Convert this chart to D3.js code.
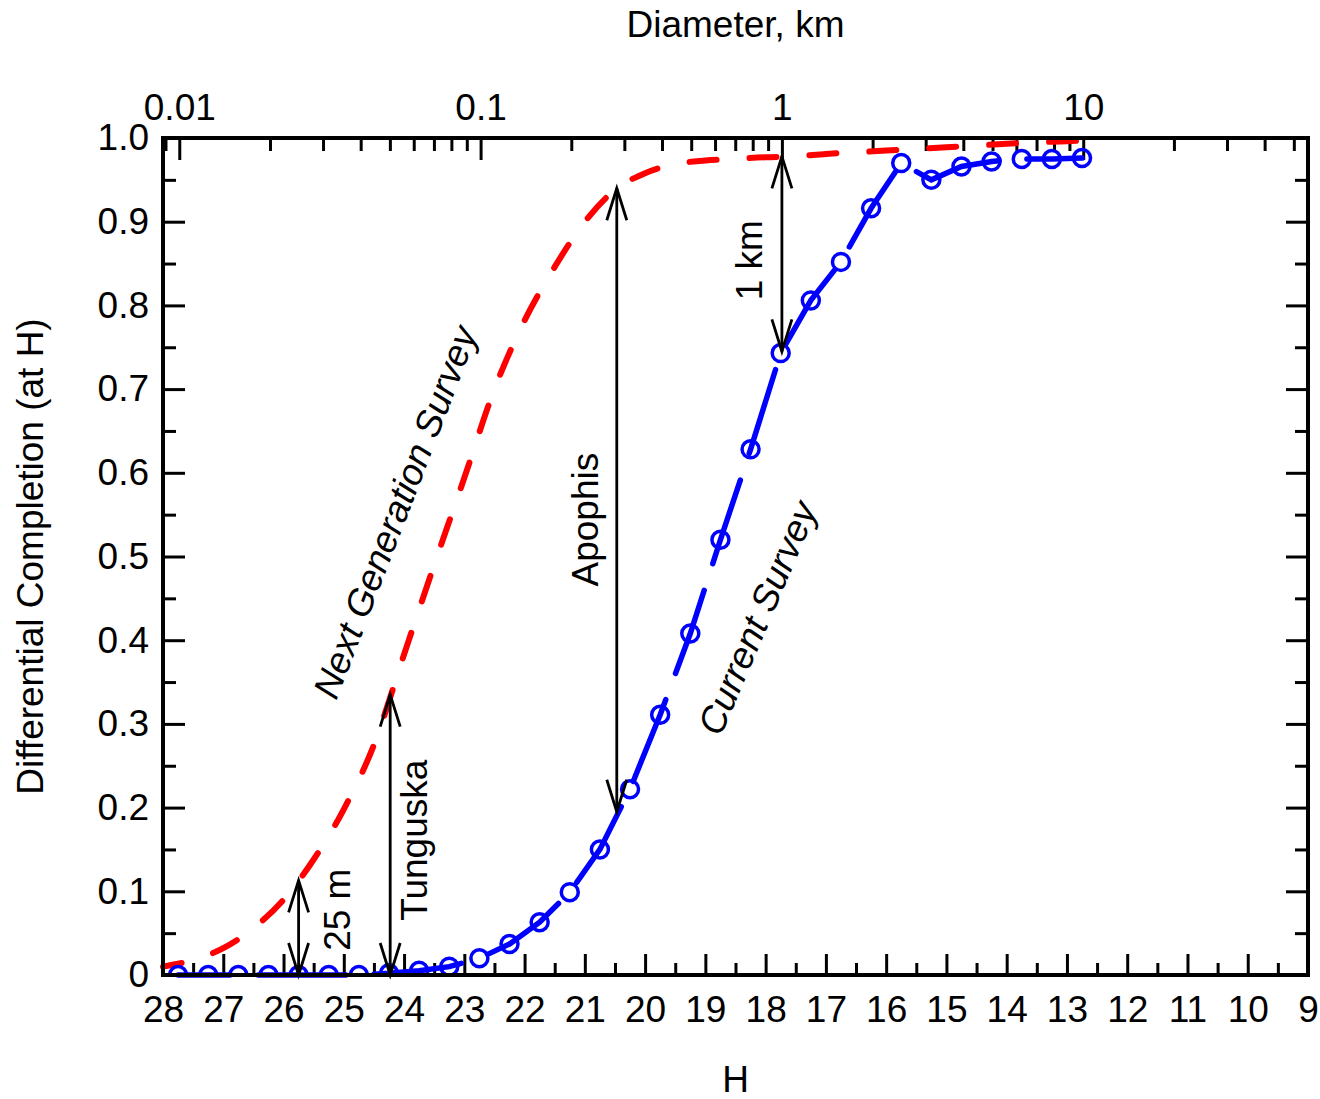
<!DOCTYPE html>
<html>
<head>
<meta charset="utf-8">
<script src="https://cdn.jsdelivr.net/npm/d3@7"></script>
<style>
  html, body { margin: 0; padding: 0; background: #fff; }
  svg text { font-family: "Liberation Sans", Arial, sans-serif; fill: #000; }
</style>
</head>
<body>
<svg id="chart" width="1320" height="1099"></svg>
<script>
// ---------------- DATA ----------------
// Current survey (blue, open circles)
const hCurrent = [27.75, 27.25, 26.75, 26.25, 25.75, 25.25, 24.75, 24.25, 23.75, 23.25,
                  22.75, 22.25, 21.75, 21.25, 20.75, 20.25, 19.75, 19.25, 18.75, 18.25,
                  17.75, 17.25, 16.75, 16.25, 15.75, 15.25, 14.75, 14.25, 13.75, 13.25, 12.75];
const compCurrent = [0, 0, 0, 0, 0, 0, 0, 0.002, 0.005, 0.01,
                     0.02, 0.037, 0.063, 0.099, 0.15, 0.222, 0.311, 0.408, 0.52, 0.628,
                     0.743, 0.806, 0.852, 0.916, 0.97, 0.95, 0.966, 0.972, 0.975, 0.975, 0.976];

// Next generation survey (red dashed)
const hNext = [28, 27.5, 27, 26.5, 26, 25.5, 25, 24.5, 24, 23.5, 23, 22.5, 22, 21.5, 21,
               20.5, 20, 19.5, 19, 18.5, 18, 17.5, 17, 16.5, 16, 15.5, 15, 14.5, 14, 13.5, 13, 12.75];
const compNext = [0.010, 0.018, 0.032, 0.056, 0.090, 0.138, 0.198, 0.275, 0.383, 0.49, 0.594, 0.70,
                  0.782, 0.846, 0.90, 0.938, 0.958, 0.969, 0.973, 0.975, 0.977, 0.978, 0.981,
                  0.983, 0.985, 0.987, 0.989, 0.991, 0.993, 0.995, 0.996, 0.997];

// Annotations (arrows)
const annText = ["25 m", "Tunguska", "Apophis", "1 km"];
const annH    = [25.75, 24.23, 20.47, 17.73];
const annLow  = [0, 0, 0.195, 0.745];
const annHigh = [0.113, 0.335, 0.94, 0.978];

// Series labels
const seriesText = ["Next Generation Survey", "Current Survey"];
const seriesH    = [24.15, 18.14];
const seriesComp = [0.553, 0.4265];

// Ticks
const hMajorTicks = [28, 27, 26, 25, 24, 23, 22, 21, 20, 19, 18, 17, 16, 15, 14, 13, 12, 11, 10, 9];
const hMinorTicks = [27.5, 26.5, 25.5, 24.5, 23.5, 22.5, 21.5, 20.5, 19.5, 18.5, 17.5, 16.5, 15.5, 14.5, 13.5, 12.5, 11.5, 10.5, 9.5];
const yMajorTicks = [0, 0.1, 0.2, 0.3, 0.4, 0.5, 0.6, 0.7, 0.8, 0.9, 1.0];
const yTickLabels = ["0", "0.1", "0.2", "0.3", "0.4", "0.5", "0.6", "0.7", "0.8", "0.9", "1.0"];
const yMinorTicks = [0.05, 0.15, 0.25, 0.35, 0.45, 0.55, 0.65, 0.75, 0.85, 0.95];
const dMajorTicks = [0.01, 0.1, 1, 10];
const dTickLabels = ["0.01", "0.1", "1", "10"];
const dMinorTicks = [0.009, 0.02, 0.03, 0.04, 0.05, 0.06, 0.07, 0.08, 0.09,
                     0.2, 0.3, 0.4, 0.5, 0.6, 0.7, 0.8, 0.9,
                     2, 3, 4, 5, 6, 7, 8, 9, 20, 30, 40, 50];
const H_AT_1KM = 17.73;

// ---------------- LAYOUT ----------------
const L = 163, R = 1308, T = 138, B = 975;
const FS = 37;
const svg = d3.select("#chart");

const x = d3.scaleLinear().domain([28, 9]).range([L, R]);
const y = d3.scaleLinear().domain([0, 1]).range([B, T]);
const diam = h => Math.pow(10, (H_AT_1KM - h) / 5);
const xd = d3.scaleLog().domain([diam(28), diam(9)]).range([L, R]);

function styleAxis(g, width) {
  g.select(".domain").remove();
  g.selectAll(".tick line").attr("stroke", "#000").attr("stroke-width", width);
  g.selectAll(".tick text").attr("font-size", FS).attr("fill", "#000")
    .style("font-family", '"Liberation Sans", Arial, sans-serif');
}

// bottom axis
svg.append("g").attr("transform", `translate(0,${B})`)
  .call(d3.axisBottom(x).tickValues(hMajorTicks).tickSize(-21).tickPadding(21).tickFormat(d3.format("d")))
  .call(g => styleAxis(g, 3));
svg.append("g").attr("transform", `translate(0,${B})`)
  .call(d3.axisBottom(x).tickValues(hMinorTicks).tickSize(-12).tickFormat(""))
  .call(g => styleAxis(g, 3));

// left axis
svg.append("g").attr("transform", `translate(${L},0)`)
  .call(d3.axisLeft(y).tickValues(yMajorTicks).tickSize(-22).tickPadding(14)
        .tickFormat((d, i) => yTickLabels[i]))
  .call(g => styleAxis(g, 3));
svg.append("g").attr("transform", `translate(${L},0)`)
  .call(d3.axisLeft(y).tickValues(yMinorTicks).tickSize(-13).tickFormat(""))
  .call(g => styleAxis(g, 3));

// right axis
svg.append("g").attr("transform", `translate(${R},0)`)
  .call(d3.axisRight(y).tickValues(yMajorTicks).tickSize(-22).tickFormat(""))
  .call(g => styleAxis(g, 3));
svg.append("g").attr("transform", `translate(${R},0)`)
  .call(d3.axisRight(y).tickValues(yMinorTicks).tickSize(-13).tickFormat(""))
  .call(g => styleAxis(g, 3));

// top axis (diameter, log)
svg.append("g").attr("transform", `translate(0,${T})`)
  .call(d3.axisTop(xd).tickValues(dMajorTicks).tickSize(-22).tickPadding(18)
        .tickFormat((d, i) => dTickLabels[i]))
  .call(g => styleAxis(g, 3));
svg.append("g").attr("transform", `translate(0,${T})`)
  .call(d3.axisTop(xd).tickValues(dMinorTicks).tickSize(-13).tickFormat(""))
  .call(g => styleAxis(g, 3));

// clip
svg.append("clipPath").attr("id", "plotclip")
  .append("rect").attr("x", L).attr("y", T - 10).attr("width", R - L).attr("height", B - T + 10);

const plot = svg.append("g");

// Red dashed next generation curve
const nextData = hNext.map((h, i) => [h, compNext[i]]);
plot.append("path")
  .datum(nextData)
  .attr("fill", "none")
  .attr("stroke", "#ff0000")
  .attr("stroke-width", 6)
  .attr("stroke-linecap", "round")
  .attr("stroke-dasharray", "27,33")
  .attr("stroke-dashoffset", 8)
  .attr("d", d3.line().x(d => x(d[0])).y(d => y(d[1])).curve(d3.curveMonotoneX));

// Blue current survey
const curData = hCurrent.map((h, i) => [h, compCurrent[i]]);
plot.append("path")
  .datum(curData)
  .attr("fill", "none")
  .attr("stroke", "#0000ff")
  .attr("stroke-width", 5.5)
  .attr("stroke-linecap", "round")
  .attr("stroke-dasharray", "88,28")
  .attr("stroke-dashoffset", 36)
  .attr("d", d3.line().x(d => x(d[0])).y(d => y(d[1])));

plot.append("g").attr("clip-path", "url(#plotclip)")
  .selectAll("circle").data(curData).join("circle")
  .attr("cx", d => x(d[0]))
  .attr("cy", d => y(d[1]))
  .attr("r", 8.5)
  .attr("fill", "none")
  .attr("stroke", "#0000ff")
  .attr("stroke-width", 3.5);

// Arrows
const headLen = 32, headHalf = 10;
const labelDx = [51, 37, -19, -20];
const labelV  = [0.078, 0.161, 0.544, 0.854];
annH.forEach((h, i) => {
  const xx = x(h), y0 = y(annLow[i]), y1 = y(annHigh[i]);
  const g = svg.append("g").attr("stroke", "#000").attr("stroke-width", 2.8).attr("fill", "none");
  g.append("line").attr("x1", xx).attr("x2", xx).attr("y1", y0).attr("y2", y1);
  g.append("path").attr("d", `M${xx - headHalf},${y1 + headLen}L${xx},${y1}L${xx + headHalf},${y1 + headLen}`);
  g.append("path").attr("d", `M${xx - headHalf},${y0 - headLen}L${xx},${y0}L${xx + headHalf},${y0 - headLen}`);
  svg.append("text")
    .attr("transform", `translate(${xx + labelDx[i]},${y(labelV[i])}) rotate(-90)`)
    .attr("text-anchor", "middle")
    .attr("font-size", FS)
    .text(annText[i]);
});

// Series labels (italic, rotated)
const seriesAngle = [-69, -67];
seriesText.forEach((t, i) => {
  svg.append("text")
    .attr("transform", `translate(${x(seriesH[i])},${y(seriesComp[i])}) rotate(${seriesAngle[i]})`)
    .attr("text-anchor", "middle")
    .attr("dy", "0.35em")
    .attr("font-size", FS)
    .attr("font-style", "italic")
    .text(t);
});

// Frame
svg.append("rect").attr("x", L).attr("y", T).attr("width", R - L).attr("height", B - T)
  .attr("fill", "none").attr("stroke", "#000").attr("stroke-width", 4);

// Axis titles
svg.append("text").attr("x", (L + R) / 2).attr("y", 37).attr("text-anchor", "middle")
  .attr("font-size", FS).text("Diameter, km");
svg.append("text").attr("x", (L + R) / 2).attr("y", 1092).attr("text-anchor", "middle")
  .attr("font-size", FS).text("H");
svg.append("text").attr("transform", `translate(43,${(T + B) / 2}) rotate(-90)`)
  .attr("text-anchor", "middle").attr("font-size", FS).text("Differential Completion (at H)");
</script>
</body>
</html>
